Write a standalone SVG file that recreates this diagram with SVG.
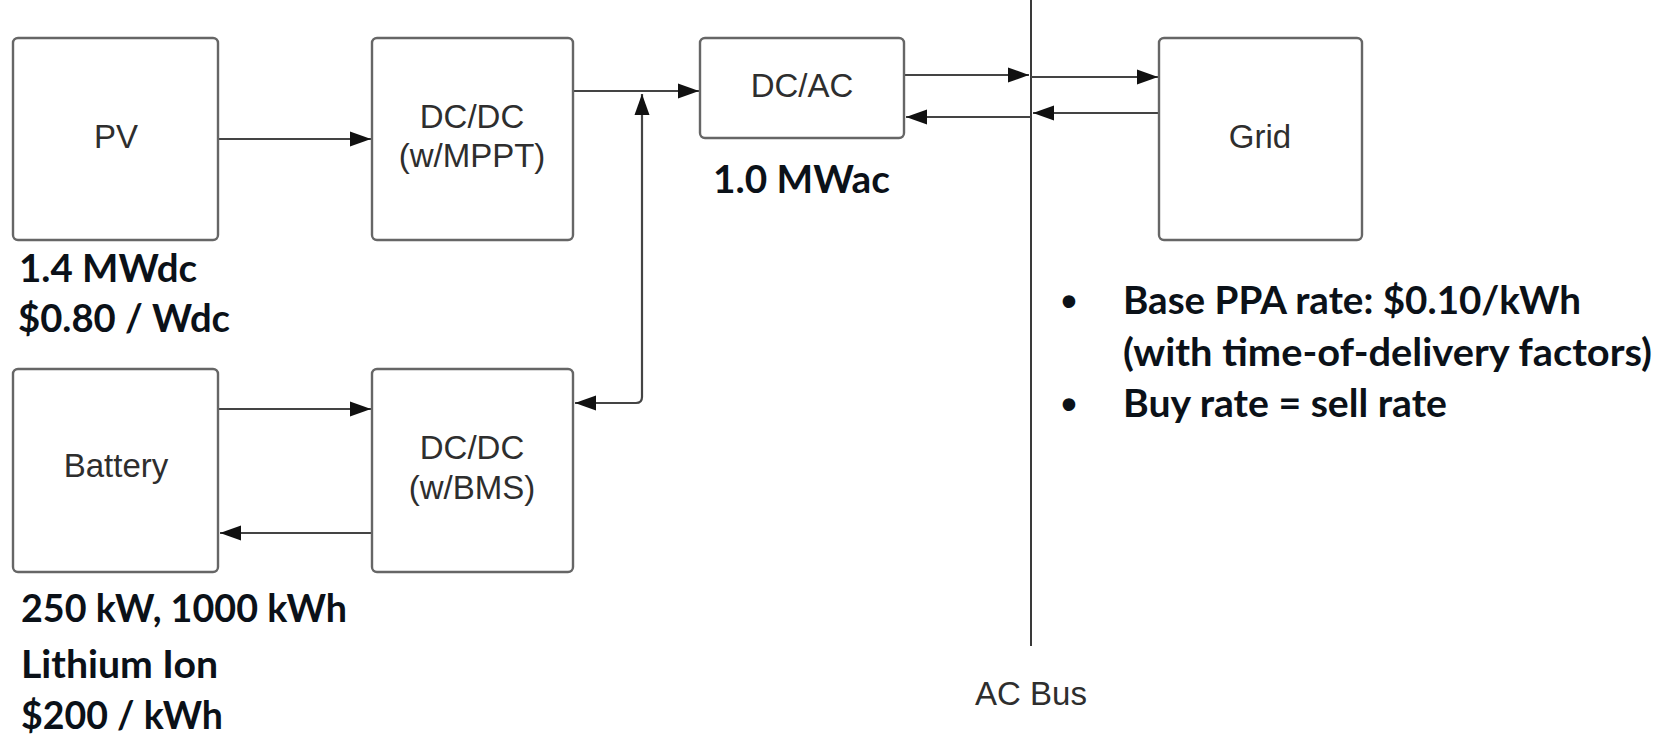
<svg xmlns="http://www.w3.org/2000/svg" width="1666" height="734" viewBox="0 0 1666 734">
<style>
.box{fill:#fff;stroke:#666;stroke-width:2.4}
.bt{font-family:"Liberation Sans",Arial,sans-serif;font-size:33px;fill:#2e2e2e;text-anchor:middle}
.lbl{font-family:Lato,"Liberation Sans",sans-serif;font-weight:bold;font-size:39px;fill:#0b1118}
.bul{font-family:"Liberation Sans",Arial,sans-serif;font-weight:bold;font-size:44px;fill:#0b1118;text-anchor:middle}
.c{fill:none;stroke:#444;stroke-width:2.2}
.bus{fill:none;stroke:#3a3a3a;stroke-width:2}
</style>
<defs>
<marker id="ah" markerUnits="userSpaceOnUse" markerWidth="22" markerHeight="16" refX="21" refY="8" orient="auto-start-reverse">
<path d="M0,0.5 L21,8 L0,15.5 z" fill="#111"/>
</marker>
</defs>
<rect width="1666" height="734" fill="#fff"/>

<g id="connectors">
<line class="bus" x1="1031" y1="0" x2="1031" y2="646"/>
<line class="c" x1="218" y1="139" x2="371" y2="139" marker-end="url(#ah)"/>
<line class="c" x1="573" y1="91" x2="699" y2="91" marker-end="url(#ah)"/>
<path class="c" d="M642,94 V397 Q642,403 636,403 H575" marker-start="url(#ah)" marker-end="url(#ah)"/>
<line class="c" x1="218" y1="409" x2="371" y2="409" marker-end="url(#ah)"/>
<line class="c" x1="372" y1="533" x2="220" y2="533" marker-end="url(#ah)"/>
<line class="c" x1="904" y1="75" x2="1029" y2="75" marker-end="url(#ah)"/>
<line class="c" x1="1031" y1="77" x2="1158" y2="77" marker-end="url(#ah)"/>
<line class="c" x1="1159" y1="113" x2="1033" y2="113" marker-end="url(#ah)"/>
<line class="c" x1="1031" y1="117" x2="906" y2="117" marker-end="url(#ah)"/>
</g>

<g id="pv">
<rect class="box" x="13" y="38" width="205" height="202" rx="5"/>
<text class="bt" x="116" y="148">PV</text>
<text class="lbl" x="19" y="282" textLength="178" lengthAdjust="spacingAndGlyphs">1.4 MWdc</text>
<text class="lbl" x="18" y="332" textLength="212" lengthAdjust="spacingAndGlyphs">$0.80 / Wdc</text>
</g>

<g id="dcdc-mppt">
<rect class="box" x="372" y="38" width="201" height="202" rx="5"/>
<text class="bt" x="472" y="128">DC/DC</text>
<text class="bt" x="472" y="167">(w/MPPT)</text>
</g>

<g id="dcac">
<rect class="box" x="700" y="38" width="204" height="100" rx="5"/>
<text class="bt" x="802" y="97">DC/AC</text>
<text class="lbl" x="713" y="193" textLength="177" lengthAdjust="spacingAndGlyphs">1.0 MWac</text>
</g>

<g id="grid">
<rect class="box" x="1159" y="38" width="203" height="202" rx="5"/>
<text class="bt" x="1260" y="148">Grid</text>
</g>

<g id="battery">
<rect class="box" x="13" y="369" width="205" height="203" rx="5"/>
<text class="bt" x="116" y="477">Battery</text>
<text class="lbl" x="21" y="622" textLength="326" lengthAdjust="spacingAndGlyphs">250 kW, 1000 kWh</text>
<text class="lbl" x="21" y="678" textLength="197" lengthAdjust="spacingAndGlyphs">Lithium Ion</text>
<text class="lbl" x="21" y="729" textLength="202" lengthAdjust="spacingAndGlyphs">$200 / kWh</text>
</g>

<g id="dcdc-bms">
<rect class="box" x="372" y="369" width="201" height="203" rx="5"/>
<text class="bt" x="472" y="459">DC/DC</text>
<text class="bt" x="472" y="499">(w/BMS)</text>
</g>

<g id="ac-bus-label">
<text class="bt" x="1031" y="705">AC Bus</text>
</g>

<g id="rates">
<text class="bul" x="1069" y="316">•</text>
<text class="lbl" x="1123" y="314" textLength="458" lengthAdjust="spacingAndGlyphs">Base PPA rate: $0.10/kWh</text>
<text class="lbl" x="1123" y="366" textLength="529" lengthAdjust="spacingAndGlyphs">(with time-of-delivery factors)</text>
<text class="bul" x="1069" y="419">•</text>
<text class="lbl" x="1123" y="417" textLength="324" lengthAdjust="spacingAndGlyphs">Buy rate = sell rate</text>
</g>
</svg>
